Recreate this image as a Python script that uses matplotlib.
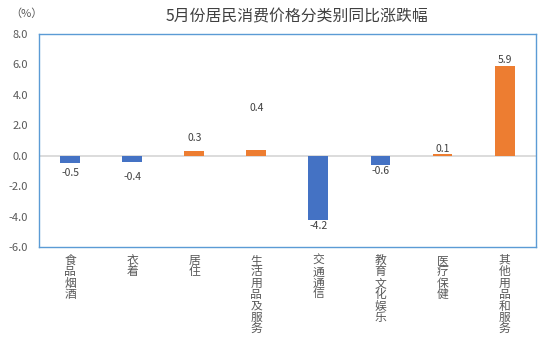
import matplotlib as mpl
mpl.use("Agg")
import matplotlib.pyplot as plt
import numpy as np

plt.rcParams['font.family'] = ['Noto Sans CJK SC', 'DejaVu Sans']

categories = ["食品烟酒", "衣着", "居住", "生活用品及服务", "交通通信", "教育文化娱乐", "医疗保健", "其他用品和服务"]
values = [-0.5, -0.4, 0.3, 0.4, -4.2, -0.6, 0.1, 5.9]
# where Excel left each data label (data units)
label_y = [-1.14, -1.40, 1.16, 3.13, -4.62, -1.01, 0.44, 6.27]
y_ticks = [-6, -4, -2, 0, 2, 4, 6, 8]

c_neg = "#4472C4"
c_pos = "#ED7D31"
c_text = "#595959"
c_frame = "#5B9BD5"

fig = plt.figure(figsize=(5.55, 3.59), dpi=100)
ax = fig.add_axes([0.0703, 0.312, 0.8949, 0.5933])

x = np.arange(len(categories))
colors = [c_pos if v > 0 else c_neg for v in values]
ax.bar(x, values, width=0.32, color=colors, zorder=3)
ax.axhline(0, color="#D9D9D9", lw=1.3, zorder=2)

for i in range(len(values)):
	ax.text(x[i], label_y[i], "%.1f" % values[i], ha="center", va="center",
		fontsize=7.5, color="#404040", zorder=4)
#end_for

ax.set_xlim(-0.5, len(categories) - 0.5)
ax.set_ylim(-6, 8)
ax.set_yticks(y_ticks)
ax.set_yticklabels(["%.1f" % t for t in y_ticks], fontsize=8, color=c_text)
ax.tick_params(axis="y", length=0, pad=8)
ax.set_xticks([])

for s in ax.spines.values():
	s.set_color(c_frame)
	s.set_linewidth(1.0)
#end_for

# vertical category labels, one character per line
for i in range(len(categories)):
	ax.annotate("\n".join(categories[i]), xy=(x[i], 0), xycoords=("data", "axes fraction"),
		xytext=(0, -5), textcoords="offset points", ha="center", va="top",
		fontsize=8.5, color=c_text, linespacing=0.84)
#end_for

fig.text(0.535, 0.953, "5月份居民消费价格分类别同比涨跌幅", ha="center", va="center",
	fontsize=11.4, color="#404040")
fig.text(0.047, 0.963, "（%）", ha="center", va="center", fontsize=8, color=c_text)

fig.savefig("out.png", dpi=100)
